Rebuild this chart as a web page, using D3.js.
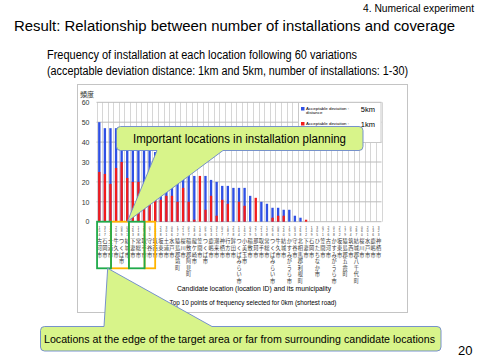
<!DOCTYPE html>
<html>
<head>
<meta charset="utf-8">
<script src="https://cdn.jsdelivr.net/npm/d3@7"></script>
<style>
  body { margin: 0; background: #fff; }
  svg { display: block; font-family: "Liberation Sans", Arial, sans-serif; }
</style>
</head>
<body>
<div id="chart"></div>
<script>
// location ids (x categories) and their municipality
const locIds = ["154","317","122","206","089","041","263","118","290","075",
  "133","248","301","066","172","219","057","284","140","096",
  "233","311","027","187","258","104","162","049","275","213",
  "128","296","081","240","195","033","268","112","149","305",
  "071","226","018","252","179","094","287","060","201","136","323"];
const municipalities = ["古河市","石岡市","土浦市","牛久市","つくば市","結城市","下妻市","常総市","取手市","守谷市",
  "筑西市","坂東市","土浦市","水戸市","猿島郡境町","桜川市","稲敷郡阿見町","龍ケ崎市","笠間市","つくば市",
  "鹿嶋市","潮来市","神栖市","行方市","鉾田市","つくばみらい市","小美玉市","稲敷市","那珂市","取手市",
  "常総市","つくばみらい市","牛久市","結城市","かすみがうら市","守谷市","北相馬郡利根町","下妻市","石岡市","ひたちなか市",
  "笠間市","古河市","かすみがうら市","坂東市","猿島郡五霞町","筑西市","結城郡八千代町","桜川市","水戸市","鹿嶋市","神栖市"];

// frequency of installation over 60 variations
const freq5km = [50,47,47,47,46,45,44,42,40,38,35,33,30,28,26,25,24,23,0,23,
  21,20,18,18,17,17,17,13,0,10,9,7,7,6,6,3,2,0,0,0,
  0,0,0,0,0,0,0,0,0,0,0];
const freq1km = [25,24,19,27,30,22,20,20,17,14,12,11,13,13,10,17,10,1,23,6,
  13,3,11,9,0,10,8,0,12,0,0,2,3,3,0,0,0,1,0,0,
  0,0,0,0,0,0,0,0,0,0,0];

const yTicks = [0,10,20,30,40,50,60];
const seriesNames = ["5km","1km"];
const seriesColors = ["#2f50e4","#f21c1c"];

// highlighted groups (in category units) and their colour
const groups = [
  { from: 2.6, to: 5.8, color: "#ffb400" },
  { from: 8.6, to: 10.5, color: "#ffb400" },
  { from: 0.1, to: 2.6, color: "#1faa4a" },
  { from: 5.8, to: 8.6, color: "#1faa4a" }
];

const W = 480, H = 360;
const svg = d3.select("#chart").append("svg").attr("width", W).attr("height", H);

// ---- slide texts
svg.append("text").attr("x", 363).attr("y", 11.5).attr("font-size", 10.5)
  .attr("textLength", 111).attr("lengthAdjust", "spacingAndGlyphs")
  .text("4. Numerical experiment");
svg.append("text").attr("x", 14).attr("y", 31).attr("font-size", 15.5)
  .attr("textLength", 441).attr("lengthAdjust", "spacingAndGlyphs")
  .text("Result: Relationship between number of installations and coverage");
svg.append("text").attr("x", 47).attr("y", 59).attr("font-size", 12)
  .attr("textLength", 310).attr("lengthAdjust", "spacingAndGlyphs")
  .text("Frequency of installation at each location following 60 variations");
svg.append("text").attr("x", 47).attr("y", 74.5).attr("font-size", 12)
  .attr("textLength", 361).attr("lengthAdjust", "spacingAndGlyphs")
  .text("(acceptable deviation distance: 1km and 5km, number of installations: 1-30)");
svg.append("text").attr("x", 458).attr("y", 355).attr("font-size", 13).text("20");

// ---- chart frame
svg.append("rect").attr("x", 77.5).attr("y", 84.5).attr("width", 330).attr("height", 228)
  .attr("fill", "#fff").attr("stroke", "#c4c4c4");

const x = d3.scaleBand().domain(d3.range(locIds.length)).range([96.5, 381.5]);
const xu = d3.scaleLinear().domain([0, locIds.length]).range([96.5, 381.5]);
const y = d3.scaleLinear().domain([0, 60]).range([221.7, 102.3]);
const bw = x.bandwidth() * 0.42;

// gridlines
const grid = svg.append("g");
grid.selectAll("line.v").data(d3.range(locIds.length + 1)).join("line")
  .attr("x1", d => Math.round(xu(d)) + 0.5).attr("x2", d => Math.round(xu(d)) + 0.5)
  .attr("y1", y(60)).attr("y2", y(0))
  .attr("stroke", "#d6d6d6").attr("stroke-width", 1);
grid.selectAll("line.h").data(yTicks).join("line")
  .attr("x1", xu(0)).attr("x2", xu(locIds.length))
  .attr("y1", d => y(d)).attr("y2", d => y(d))
  .attr("stroke", "#bcbcbc");

// y axis
const yAxis = svg.append("g").attr("transform", `translate(${xu(0)},0)`)
  .call(d3.axisLeft(y).tickValues(yTicks).tickSize(0).tickPadding(7));
yAxis.select(".domain").remove();
yAxis.selectAll("text").attr("font-size", 7).attr("fill", "#333")
  .attr("font-family", "Liberation Sans, Arial, sans-serif");
svg.append("text").attr("x", 80).attr("y", 97).attr("font-size", 7)
  .attr("font-family", "Noto Sans CJK JP").attr("fill", "#333").text("頻度");

// bars: 5km behind, 1km in front
const cx = i => x(i) + x.bandwidth() / 2;
[freq5km, freq1km].forEach((vals, s) => {
  svg.append("g").selectAll("rect").data(vals).join("rect")
    .attr("x", (d, i) => cx(i) - bw / 2)
    .attr("y", d => y(d))
    .attr("width", bw)
    .attr("height", d => y(0) - y(d))
    .attr("fill", seriesColors[s]);
});

// category labels, one character per row
const lab = svg.append("g").attr("fill", "#333");
locIds.forEach((id, i) => {
  const g = lab.append("g");
  id.split("").forEach((c, k) => {
    g.append("text").attr("x", cx(i)).attr("y", 228.5 + k * 3.8)
      .attr("text-anchor", "middle").attr("font-size", 3.2).text(c);
  });
  municipalities[i].split("").forEach((c, k) => {
    g.append("text").attr("x", cx(i)).attr("y", 243.4 + k * 6.6)
      .attr("text-anchor", "middle").attr("font-size", 5.2)
      .attr("font-family", "Noto Sans CJK JP").text(c);
  });
});

svg.append("text").attr("x", 254).attr("y", 291).attr("text-anchor", "middle")
  .attr("font-size", 6.8).text("Candidate location (location ID) and its municipality");
svg.append("text").attr("x", 253).attr("y", 305).attr("text-anchor", "middle")
  .attr("font-size", 6.4).text("Top 10 points of frequency selected for 0km (shortest road)");

// legend
const leg = svg.append("g");
leg.append("rect").attr("x", 298.5).attr("y", 102.5).attr("width", 82.5).attr("height", 40)
  .attr("fill", "#fff").attr("stroke", "#c8c8c8");
seriesNames.forEach((name, s) => {
  const ly = 109 + s * 15;
  leg.append("rect").attr("x", 301).attr("y", ly - 2).attr("width", 3.5).attr("height", 3.5)
    .attr("fill", seriesColors[s]);
  leg.append("text").attr("x", 306).attr("y", ly + 0.5).attr("font-size", 4.4).text("Acceptable deviation :");
  leg.append("text").attr("x", 306).attr("y", ly + 5).attr("font-size", 4.4).text("distance");
  leg.append("text").attr("x", 375).attr("y", ly + 3).attr("text-anchor", "end")
    .attr("font-size", 7.5).text(name);
});

// highlight boxes under the labels
svg.append("g").selectAll("rect").data(groups).join("rect")
  .attr("x", d => xu(d.from)).attr("y", y(0))
  .attr("width", d => xu(d.to) - xu(d.from)).attr("height", 268.3 - y(0))
  .attr("fill", "none").attr("stroke", d => d.color).attr("stroke-width", 1.8);

// callouts
function callout(x0, y0, x1, y1, r, side, t0, t1, ax, ay) {
  const p = d3.path();
  p.moveTo(x0 + r, y0);
  if (side === "top") { p.lineTo(t0, y0); p.lineTo(ax, ay); p.lineTo(t1, y0); }
  p.lineTo(x1 - r, y0);
  p.quadraticCurveTo(x1, y0, x1, y0 + r);
  p.lineTo(x1, y1 - r);
  p.quadraticCurveTo(x1, y1, x1 - r, y1);
  if (side === "bottom") { p.lineTo(t1, y1); p.lineTo(ax, ay); p.lineTo(t0, y1); }
  p.lineTo(x0 + r, y1);
  p.quadraticCurveTo(x0, y1, x0, y1 - r);
  p.lineTo(x0, y0 + r);
  p.quadraticCurveTo(x0, y0, x0 + r, y0);
  p.closePath();
  return p.toString();
}
const calloutFill = "#d8f48a", calloutStroke = "#6a86cc";

svg.append("path")
  .attr("d", callout(116.5, 126.5, 363, 150.5, 4, "bottom", 157, 223, cx(5), y(0)))
  .attr("fill", calloutFill).attr("stroke", calloutStroke).attr("stroke-width", 0.9);
svg.append("text").attr("x", 239.5).attr("y", 143).attr("text-anchor", "middle")
  .attr("font-size", 12.5).attr("textLength", 213).attr("lengthAdjust", "spacingAndGlyphs")
  .text("Important locations in installation planning");

svg.append("path")
  .attr("d", callout(40.5, 326.5, 441, 351, 4, "top", 104, 212, xu(2), 268.3))
  .attr("fill", calloutFill).attr("stroke", calloutStroke).attr("stroke-width", 0.9);
svg.append("text").attr("x", 239.5).attr("y", 342.5).attr("text-anchor", "middle")
  .attr("font-size", 11.5).attr("textLength", 391).attr("lengthAdjust", "spacingAndGlyphs")
  .text("Locations at the edge of the target area or far from surrounding candidate locations");
</script>
</body>
</html>
